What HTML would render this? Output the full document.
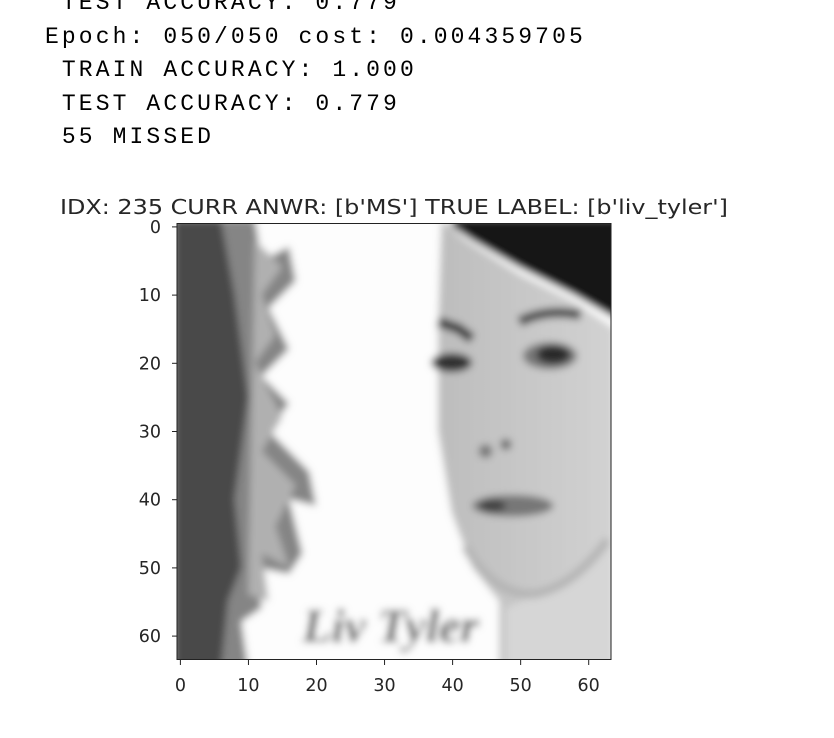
<!DOCTYPE html>
<html><head><meta charset="utf-8"><style>
html,body{margin:0;padding:0;background:#fff;width:834px;height:738px;overflow:hidden}
.log{position:absolute;left:45px;font-family:"Liberation Mono",monospace;font-size:23px;letter-spacing:3.1px;color:#000;white-space:pre;line-height:1}
</style></head><body>
<div class="log" style="top:-8px"> TEST ACCURACY: 0.779</div>
<div class="log" style="top:26px">Epoch: 050/050 cost: 0.004359705</div>
<div class="log" style="top:59px"> TRAIN ACCURACY: 1.000</div>
<div class="log" style="top:93px"> TEST ACCURACY: 0.779</div>
<div class="log" style="top:126px"> 55 MISSED</div>

<svg id="fig" width="834" height="738" style="position:absolute;left:0;top:0">
  <defs>
    <filter id="bl" x="-5%" y="-5%" width="110%" height="110%"><feGaussianBlur stdDeviation="0.55"/></filter>
    <clipPath id="cp"><rect x="-0.5" y="-0.5" width="64" height="64"/></clipPath>
    <linearGradient id="fg" x1="0" x2="1" y1="0" y2="0"><stop offset="0" stop-color="#bdbdbd"/><stop offset="1" stop-color="#d2d2d2"/></linearGradient>
  </defs>
  <text x="394" y="214" text-anchor="middle" font-family="DejaVu Sans, sans-serif" font-size="20.5" fill="#262626" textLength="668" lengthAdjust="spacingAndGlyphs">IDX: 235 CURR ANWR: [b'MS'] TRUE LABEL: [b'liv_tyler']</text>
  <svg x="177" y="223" width="434" height="436" viewBox="-0.5 -0.5 64 64" preserveAspectRatio="none">
    <g clip-path="url(#cp)"><g filter="url(#bl)">
      <rect x="-1" y="-1" width="66" height="66" fill="#fdfdfd"/>
      <polygon fill="#858585" points="6,-1 11,-1 12,5 16,3 17,8 13,12 16,18 12,22 16,26 13,30 19,36 20,41 16,40 18,48 16,51 11,50 12,56 9,58 10,65 6,65"/>
      <polygon fill="#b0b0b0" points="11,2 15,6 12,10 14,16 11,20 15,28 12,33 17,38 14,44 16,50 12,48 13,55 10,54"/>
      <polygon fill="#4a4a4a" points="-1,-1 6,-1 8,10 10,25 8,40 9,50 7,55 6,65 -1,65"/>
      <polygon fill="url(#fg)" points="38.5,-1 42,2 50,7 58,11 64,15 64,65 47,65 47,55 43,50 40,42 38,30 38,15"/>
      <polygon fill="#d6d6d6" points="48,56 55,53 62,48 64,45 64,65 48,65"/>
      <polygon fill="#141414" points="40,-1 65,-1 65,14 58,10 50,6 43,2 40,0"/>
      <path d="M38,14 L41,15 L43,16.5" stroke="#3c3c3c" stroke-width="1.5" fill="none"/>
      <path d="M50,14 Q54,12 59,13" stroke="#505050" stroke-width="1.5" fill="none"/>
      <ellipse cx="40" cy="20" rx="3" ry="1.4" fill="#333"/>
      <ellipse cx="54.5" cy="19" rx="4" ry="2" fill="#777"/>
      <ellipse cx="55" cy="18.8" rx="2.5" ry="1.4" fill="#2a2a2a"/>
      <circle cx="45" cy="33" r="1" fill="#777"/>
      <circle cx="48" cy="32" r="0.8" fill="#666"/>
      <ellipse cx="49" cy="41" rx="6" ry="1.6" fill="#777"/>
      <ellipse cx="46" cy="41" rx="2" ry="1" fill="#444"/>
      <path d="M42,47 Q46,54 52,54 Q58,53 63,46" stroke="#b3b3b3" stroke-width="1.2" fill="none"/>
      <text x="18" y="61" font-family="Liberation Serif, serif" font-style="italic" font-weight="bold" font-size="7" fill="#4a4a4a" textLength="26" lengthAdjust="spacingAndGlyphs">Liv Tyler</text>
    </g></g>
  </svg>
  <rect x="177" y="223.5" width="434" height="436" fill="none" stroke="#222" stroke-width="1"/>
  <g id="xt"></g><g id="yt"></g>
</svg>
<script>
const xTickValues=[0,10,20,30,40,50,60];
const yTickValues=[0,10,20,30,40,50,60];
const xTickLabels=["0","10","20","30","40","50","60"];
const yTickLabels=["0","10","20","30","40","50","60"];
const NS="http://www.w3.org/2000/svg";
function xs(v){return 180.4+v*6.805;}
function ys(v){return 226.9+v*6.82;}
const xt=document.getElementById('xt'),yt=document.getElementById('yt');
xTickValues.forEach((v,i)=>{
  const l=document.createElementNS(NS,'line');
  l.setAttribute('x1',xs(v));l.setAttribute('x2',xs(v));l.setAttribute('y1',660);l.setAttribute('y2',665);
  l.setAttribute('stroke','#222');
  
  
  xt.appendChild(l);
  const t=document.createElementNS(NS,'text');
  t.setAttribute('x',xs(v));t.setAttribute('y',691);t.setAttribute('text-anchor','middle');
  t.setAttribute('font-family','DejaVu Sans, sans-serif');t.setAttribute('font-size','17.5');t.setAttribute('fill','#262626');
  t.textContent=xTickLabels[i];
  
  
  xt.appendChild(t);
});
yTickValues.forEach((v,i)=>{
  const l=document.createElementNS(NS,'line');
  l.setAttribute('x1',172);l.setAttribute('x2',177);l.setAttribute('y1',ys(v));l.setAttribute('y2',ys(v));
  l.setAttribute('stroke','#222');
  
  
  yt.appendChild(l);
  const t=document.createElementNS(NS,'text');
  t.setAttribute('x',161);t.setAttribute('y',ys(v)+6);t.setAttribute('text-anchor','end');
  t.setAttribute('font-family','DejaVu Sans, sans-serif');t.setAttribute('font-size','17.5');t.setAttribute('fill','#262626');
  t.textContent=yTickLabels[i];
  
  
  yt.appendChild(t);
});
</script>
</body></html>
